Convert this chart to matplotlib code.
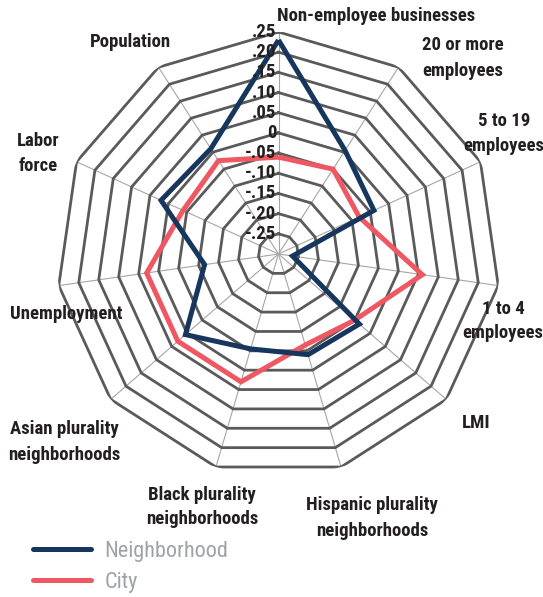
import numpy as np
import matplotlib
matplotlib.use("Agg")
import matplotlib.pyplot as plt
from matplotlib import transforms
from matplotlib import font_manager

# ---- data -------------------------------------------------------------
categories = [
    "Non-employee businesses",
    "20 or more\nemployees",
    "5 to 19\nemployees",
    "1 to 4\nemployees",
    "LMI",
    "Hispanic plurality\nneighborhoods",
    "Black plurality\nneighborhoods",
    "Asian plurality\nneighborhoods",
    "Unemployment",
    "Labor\nforce",
    "Population",
]
neighborhood = [0.23, 0.005, -0.04, -0.265, -0.035, -0.04, -0.055, 0.005, -0.115, 0.02, 0.01]
city = [-0.06, -0.05, -0.08, 0.06, -0.05, -0.065, 0.03, 0.03, 0.03, -0.04, -0.025]
ring_levels = [-0.25, -0.20, -0.15, -0.10, -0.05, 0.0, 0.05, 0.10, 0.15, 0.20, 0.25]
ring_labels = ["-.25", "-.20", "-.15", "-.10", "-.05", "0", ".05", ".10", ".15", ".20", ".25"]
r_min, r_max = -0.30, 0.25

NAVY = "#17365d"
RED = "#ef5763"
GRID = "#5a5a5a"
SPOKE = "#a6a6a6"
TEXT = "#231f20"
LEGEND_TEXT = "#9ea3a7"

# prefer a narrow face when one is available
installed = {f.name for f in font_manager.fontManager.ttflist}
preferred = ["Roboto Condensed", "Liberation Sans Narrow", "DejaVu Sans Condensed",
             "Roboto", "DejaVu Sans"]
FONT = [f for f in preferred if f in installed] or ["DejaVu Sans"]
plt.rcParams["font.family"] = FONT
narrow = FONT[0] in ("Roboto Condensed", "Liberation Sans Narrow", "DejaVu Sans Condensed")
scale = 1.0 if narrow else 0.86

W, H = 543, 597
fig = plt.figure(figsize=(W / 100, H / 100), dpi=100)
fig.patch.set_facecolor("white")

# polar axes: centre at (278.5, 254) px, outer ring radius 222 px
cx, cy, R = 278.5, 254, 222
ax = fig.add_axes([(cx - R) / W, (H - cy - R) / H, 2 * R / W, 2 * R / H], projection="polar")
ax.set_theta_offset(np.pi / 2)
ax.set_theta_direction(-1)
ax.set_ylim(r_min, r_max)
ax.grid(False)
ax.spines["polar"].set_visible(False)
ax.set_xticks([])
ax.set_yticks([])
ax.patch.set_alpha(0)

n = len(categories)
angles = np.linspace(0, 2 * np.pi, n, endpoint=False)
closed = np.concatenate([angles, angles[:1]])

# spokes
for a in angles:
    ax.plot([a, a], [r_min, r_max], color=SPOKE, lw=0.8, zorder=1)

# polygonal rings
for lvl in ring_levels:
    ax.plot(closed, [lvl] * (n + 1), color=GRID, lw=2.0, zorder=2,
            solid_joinstyle="miter")

# series
nb_line, = ax.plot(closed, neighborhood + neighborhood[:1], color=NAVY, lw=3.6,
                   zorder=4, solid_joinstyle="miter", solid_capstyle="butt")
city_line, = ax.plot(closed, city + city[:1], color=RED, lw=3.6,
                     zorder=3, solid_joinstyle="miter", solid_capstyle="butt")

# ring value labels along the top spoke
lbl_tr = transforms.offset_copy(ax.transData, fig=fig, x=-1.5, y=0, units="points")
for lvl, txt in zip(ring_levels, ring_labels):
    ax.text(0, lvl, txt, transform=lbl_tr, ha="right", va="center",
            fontsize=13.5 * scale, fontweight="bold", color=TEXT, zorder=5)

# category labels (pixel centres)
label_pos = [
    (376, 16),
    (463, 58),
    (504, 134),
    (503, 321),
    (476, 423),
    (372, 518),
    (202, 507),
    (64, 442),
    (66, 314),
    (38, 154),
    (130, 42),
]
for name, (px, py) in zip(categories, label_pos):
    fig.text(px / W, 1 - py / H, name, ha="center", va="center", fontsize=13.5 * scale,
             fontweight="bold", color=TEXT, linespacing=1.5)

# legend
leg = fig.legend([nb_line, city_line], ["Neighborhood", "City"],
                 loc="center left", bbox_to_anchor=(22 / W, 1 - 567 / H),
                 frameon=False, fontsize=16 * scale, handlelength=2.6, handletextpad=0.6,
                 labelspacing=0.45, labelcolor=LEGEND_TEXT, borderpad=0)
for h in leg.get_lines():
    h.set_linewidth(3.6)
    h.set_solid_capstyle("round")

fig.savefig("out.png", dpi=100, facecolor="white")
